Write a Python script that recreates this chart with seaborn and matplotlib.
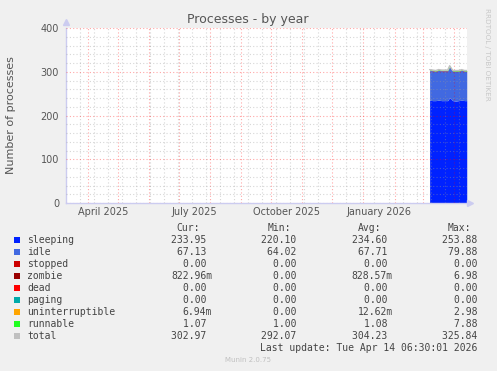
import pandas as pd
import numpy as np
import matplotlib
matplotlib.use("Agg")
import matplotlib.pyplot as plt
import seaborn as sns

dates = ["2026-03-08", "2026-03-11", "2026-03-14", "2026-03-17", "2026-03-20",
         "2026-03-23", "2026-03-26", "2026-03-28", "2026-03-31", "2026-04-03",
         "2026-04-06", "2026-04-09", "2026-04-12", "2026-04-14"]
sleeping = [235, 234, 234, 235, 234, 234, 234, 241, 234, 233, 234, 235, 234, 234]
idle = [68, 68, 67, 68, 68, 68, 68, 70, 67, 68, 67, 68, 67, 67]
stopped = [0] * 14
zombie = [0.8, 0.8, 0.8, 0.9, 0.8, 0.8, 0.8, 0.9, 0.8, 0.8, 0.8, 0.8, 0.8, 0.8]
dead = [0] * 14
paging = [0] * 14
uninterruptible = [0.01, 0.01, 0.01, 0.01, 0.02, 0.01, 0.01, 0.01, 0.01, 0.01, 0.01, 0.01, 0.01, 0.01]
runnable = [1.1, 1.1, 1.0, 1.1, 1.1, 1.0, 1.1, 2.0, 1.1, 1.0, 1.1, 1.1, 1.0, 1.1]

names = ["sleeping", "idle", "stopped", "zombie", "dead", "paging",
         "uninterruptible", "runnable", "total"]
colors = ["#0022ff", "#4169e1", "#cc0000", "#990000", "#ff0000", "#00aaaa",
          "#ffa500", "#22ff22", "#c0c0c0"]
cur = ["233.95 ", "67.13 ", "0.00 ", "822.96m", "0.00 ", "0.00 ", "6.94m", "1.07 ", "302.97 "]
mins = ["220.10 ", "64.02 ", "0.00 ", "0.00 ", "0.00 ", "0.00 ", "0.00 ", "1.00 ", "292.07 "]
avgs = ["234.60 ", "67.71 ", "0.00 ", "828.57m", "0.00 ", "0.00 ", "12.62m", "1.08 ", "304.23 "]
maxs = ["253.88 ", "79.88 ", "0.00 ", "6.98 ", "0.00 ", "0.00 ", "2.98 ", "7.88 ", "325.84 "]

df = pd.DataFrame({"date": pd.to_datetime(dates), "sleeping": sleeping, "idle": idle,
                   "stopped": stopped, "zombie": zombie, "dead": dead, "paging": paging,
                   "uninterruptible": uninterruptible, "runnable": runnable})
df["total"] = df[names[:-1]].sum(axis=1)

sns.set_style("white")
plt.rcParams["font.family"] = ["DejaVu Sans"]

W, H = 497, 371
fig = plt.figure(figsize=(W / 100, H / 100), dpi=100, facecolor="#f0f0f0")
ax = fig.add_axes([66 / W, 1 - 203 / H, 401 / W, 175 / H])
ax.set_facecolor("white")

# stacked areas + total line
ax.stackplot(df["date"], *[df[n] for n in names[:-1]], colors=colors[:-1], linewidth=0, zorder=2)
sns.lineplot(data=df, x="date", y="total", color="#c0c0c0", linewidth=1, ax=ax, zorder=3)

end = pd.Timestamp("2026-04-14 06:30")
ax.set_xlim(end - pd.Timedelta(days=400), end)
ax.set_ylim(0, 400)

# grid: red at months / hundreds, grey at 2-week mondays / 20s (semi-transparent like rrdtool)
months = pd.date_range("2025-04-01", "2026-04-01", freq="MS")
weeks = pd.date_range("2025-03-24", "2026-04-14", freq="14D")
ax.set_xticks(months)
ax.set_xticklabels([])
ax.set_xticks(weeks, minor=True)
ax.set_yticks(np.arange(0, 401, 100))
ax.set_yticks(np.arange(0, 401, 20), minor=True)
ax.grid(which="major", color="#ff0000", alpha=0.35, linestyle=(0, (1, 2)), linewidth=0.8, zorder=4)
ax.grid(which="minor", color="#999999", alpha=0.4, linestyle=(0, (1, 2)), linewidth=0.8, zorder=4)
ax.set_axisbelow(False)
ax.tick_params(axis="x", which="major", length=2, color="#f0a0a0")
ax.tick_params(axis="x", which="minor", length=2, color="#d6d6d6")
ax.tick_params(axis="y", which="major", length=2, color="#f0a0a0", labelsize=7,
               labelcolor="#555555", pad=3)
ax.tick_params(axis="y", which="minor", length=2, color="#d6d6d6")

for lbl, d in zip(["April 2025", "July 2025", "October 2025", "January 2026"],
                  ["2025-04-16", "2025-07-16", "2025-10-16", "2026-01-16"]):
    ax.text(pd.Timestamp(d), -0.052, lbl, transform=ax.get_xaxis_transform(),
            ha="center", va="center", fontsize=7, color="#555555")

for s in ["top", "right"]:
    ax.spines[s].set_visible(False)
for s in ["left", "bottom"]:
    ax.spines[s].set_color("#ccccf0")
    ax.spines[s].set_linewidth(1)
ax.plot([0], [1.035], marker="^", color="#ccccf0", markersize=5, transform=ax.transAxes, clip_on=False)
ax.plot([1.008], [0], marker=">", color="#ccccf0", markersize=5, transform=ax.transAxes, clip_on=False)

ax.set_xlabel("")
ax.set_ylabel("")
fig.text(11 / W, 1 - 115 / H, "Number of processes", rotation=90, ha="center", va="center",
         fontsize=8, color="#555555")
fig.text(248 / W, 1 - 19 / H, "Processes - by year", ha="center", va="center",
         fontsize=9, color="#555555")
fig.text(487 / W, 1 - 54 / H, "RRDTOOL / TOBI OETIKER", rotation=-90, ha="center", va="center",
         fontsize=5.2, color="#c8c8c8")

# legend table
mono = "DejaVu Sans Mono"
tc = "#444444"
for x, h in zip([200, 291, 381, 471], ["Cur:", "Min:", "Avg:", "Max:"]):
    fig.text(x / W, 1 - 228 / H, h, ha="right", va="center", fontsize=7, family=mono, color=tc)
for i, n in enumerate(names):
    y = 1 - (240 + 12 * i) / H
    fig.patches.append(plt.Rectangle((14 / W, y - 3 / H), 6 / W, 6 / H, transform=fig.transFigure,
                                     facecolor=colors[i], edgecolor="none"))
    fig.text(27 / W, y, n, ha="left", va="center", fontsize=7, family=mono, color=tc)
    for x, v in zip([212, 302, 393, 483], [cur[i], mins[i], avgs[i], maxs[i]]):
        fig.text(x / W, y, v, ha="right", va="center", fontsize=7, family=mono, color=tc)
fig.text(483 / W, 1 - 348 / H, "Last update: Tue Apr 14 06:30:01 2026 ", ha="right", va="center",
         fontsize=7, family=mono, color=tc)
fig.text(248 / W, 1 - 360 / H, "Munin 2.0.75", ha="center", va="center", fontsize=5,
         color="#c0c0c0")

fig.savefig("out.png", dpi=100, facecolor=fig.get_facecolor())
